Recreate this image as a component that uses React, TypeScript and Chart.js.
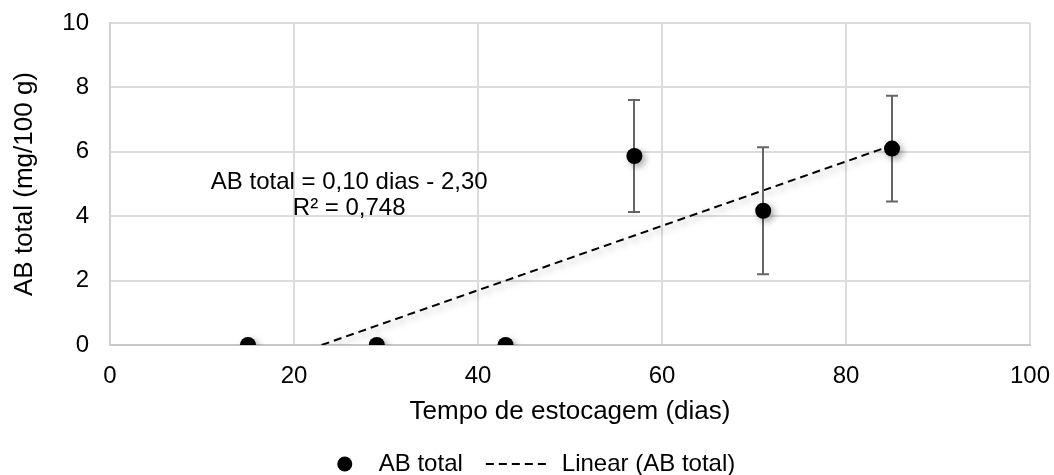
import { useEffect, useRef } from "react";
import { Chart, registerables } from "chart.js";

Chart.register(...registerables);

// Storage time (days) and measured AB total (mg/100 g) with standard deviation
const days = [15, 29, 43, 57, 71, 85];
const abTotal = [0, 0, 0, 5.87, 4.17, 6.1];
const abTotalSd = [0, 0, 0, 1.74, 1.97, 1.64];

// Axis ticks
const xTicks = [0, 20, 40, 60, 80, 100];
const yTicks = [0, 2, 4, 6, 8, 10];

// Linear trendline as reported in the equation label
const trendSlope = 0.1;
const trendIntercept = -2.3;
const trendR2 = 0.748;
const trendX = [15, 85];

const seriesName = "AB total";
const trendName = "Linear (AB total)";
const xTitle = "Tempo de estocagem (dias)";
const yTitle = "AB total (mg/100 g)";

// Where the equation label sits, in data units
const eqAnchorX = 26;
const eqAnchorY = 5.05;

const FONT = '"Liberation Sans", Arial, Helvetica, sans-serif';
const fmt = (v: number, d: number) => v.toFixed(d).replace(".", ",");

const errorAndShadowPlugin = {
  id: "errorAndShadow",
  beforeDatasetDraw(chart: any, args: any) {
    const { ctx, scales } = chart;
    if (args.index === 0) {
      const x = scales.x;
      const y = scales.y;
      ctx.save();
      ctx.strokeStyle = "#666666";
      ctx.lineWidth = 2;
      days.forEach((d, i) => {
        const e = abTotalSd[i];
        if (!e) return;
        const px = Math.round(x.getPixelForValue(d));
        const top = y.getPixelForValue(abTotal[i] + e);
        const bot = y.getPixelForValue(abTotal[i] - e);
        ctx.beginPath();
        ctx.moveTo(px, top);
        ctx.lineTo(px, bot);
        ctx.moveTo(px - 6, top);
        ctx.lineTo(px + 6, top);
        ctx.moveTo(px - 6, bot);
        ctx.lineTo(px + 6, bot);
        ctx.stroke();
      });
      ctx.restore();
    }
    ctx.save();
    ctx.shadowColor = "rgba(0,0,0,0.35)";
    ctx.shadowBlur = 7;
    ctx.shadowOffsetX = 3;
    ctx.shadowOffsetY = 3;
  },
  afterDatasetDraw(chart: any) {
    chart.ctx.restore();
  },
  afterDraw(chart: any) {
    const { ctx, scales } = chart;
    // Trendline equation
    ctx.save();
    ctx.font = `24px ${FONT}`;
    ctx.fillStyle = "#000";
    ctx.textAlign = "center";
    ctx.textBaseline = "middle";
    const ex = scales.x.getPixelForValue(eqAnchorX);
    const ey = scales.y.getPixelForValue(eqAnchorY);
    ctx.fillText(
      `${seriesName} = ${fmt(trendSlope, 2)} dias - ${fmt(-trendIntercept, 2)}`,
      ex,
      ey
    );
    ctx.fillText(`R² = ${fmt(trendR2, 3)}`, ex, ey + 26);

    // Legend
    ctx.textAlign = "left";
    const w1 = ctx.measureText(seriesName).width;
    const w2 = ctx.measureText(trendName).width;
    const total = 16 + 26 + w1 + 23 + 64 + 12 + w2;
    let lx = chart.width / 2 - total / 2 + 9;
    const ly = 464;
    ctx.fillStyle = "#000";
    ctx.beginPath();
    ctx.arc(lx + 8, ly, 7.5, 0, Math.PI * 2);
    ctx.fill();
    lx += 16 + 26;
    ctx.fillText(seriesName, lx, ly);
    lx += w1 + 23;
    ctx.strokeStyle = "#000";
    ctx.lineWidth = 2;
    ctx.setLineDash([8, 5]);
    ctx.beginPath();
    ctx.moveTo(lx, ly);
    ctx.lineTo(lx + 64, ly);
    ctx.stroke();
    ctx.setLineDash([]);
    lx += 64 + 12;
    ctx.fillText(trendName, lx, ly);
    ctx.restore();
  },
};

export default function App() {
  const canvasRef = useRef<HTMLCanvasElement | null>(null);

  useEffect(() => {
    if (!canvasRef.current) return;
    Chart.defaults.font.family = FONT;
    Chart.defaults.color = "#000";

    const chart = new Chart(canvasRef.current, {
      type: "scatter",
      data: {
        datasets: [
          {
            label: seriesName,
            data: days.map((d, i) => ({ x: d, y: abTotal[i] })),
            pointRadius: 8,
            pointHoverRadius: 8,
            pointBackgroundColor: "#000",
            pointBorderColor: "#000",
            pointBorderWidth: 0,
            showLine: false,
          },
          {
            label: trendName,
            type: "line",
            data: trendX.map((x) => ({ x, y: trendSlope * x + trendIntercept })),
            borderColor: "#000",
            borderWidth: 2,
            borderDash: [8, 5],
            pointRadius: 0,
            fill: false,
          } as any,
        ],
      },
      options: {
        responsive: false,
        animation: false,
        events: [],
        layout: { padding: { left: 0, right: 24, top: 23, bottom: 40 } },
        plugins: {
          legend: { display: false },
          tooltip: { enabled: false },
        },
        scales: {
          x: {
            type: "linear",
            min: 0,
            max: 100,
            afterBuildTicks: (s: any) => {
              s.ticks = xTicks.map((v) => ({ value: v }));
            },
            afterFit: (s: any) => {
              s.height = 90;
            },
            ticks: { font: { size: 24 }, color: "#000", padding: 0 },
            grid: {
              color: "#dcdcdc",
              lineWidth: 2,
              drawTicks: true,
              tickLength: 17,
              tickColor: "rgba(0,0,0,0)",
            },
            border: { color: "#c8c8c8", width: 2 },
            title: {
              display: true,
              text: xTitle,
              font: { size: 26 },
              color: "#000",
              padding: { top: 0, bottom: 8 },
            },
          },
          y: {
            type: "linear",
            min: 0,
            max: 10,
            afterBuildTicks: (s: any) => {
              s.ticks = yTicks.map((v) => ({ value: v }));
            },
            afterFit: (s: any) => {
              s.width = 110;
            },
            ticks: { font: { size: 24 }, color: "#000", padding: 0 },
            grid: {
              color: "#dcdcdc",
              lineWidth: 2,
              drawTicks: true,
              tickLength: 21,
              tickColor: "rgba(0,0,0,0)",
            },
            border: { color: "#d0d0d0", width: 2 },
            title: {
              display: true,
              text: yTitle,
              font: { size: 26 },
              color: "#000",
              padding: { top: 9, bottom: 0 },
            },
          },
        },
      } as any,
      plugins: [errorAndShadowPlugin],
    });

    return () => chart.destroy();
  }, []);

  return (
    <div style={{ position: "absolute", left: 0, top: 0, width: 1054, height: 475, background: "#fff" }}>
      <canvas ref={canvasRef} width={1054} height={475} />
    </div>
  );
}
